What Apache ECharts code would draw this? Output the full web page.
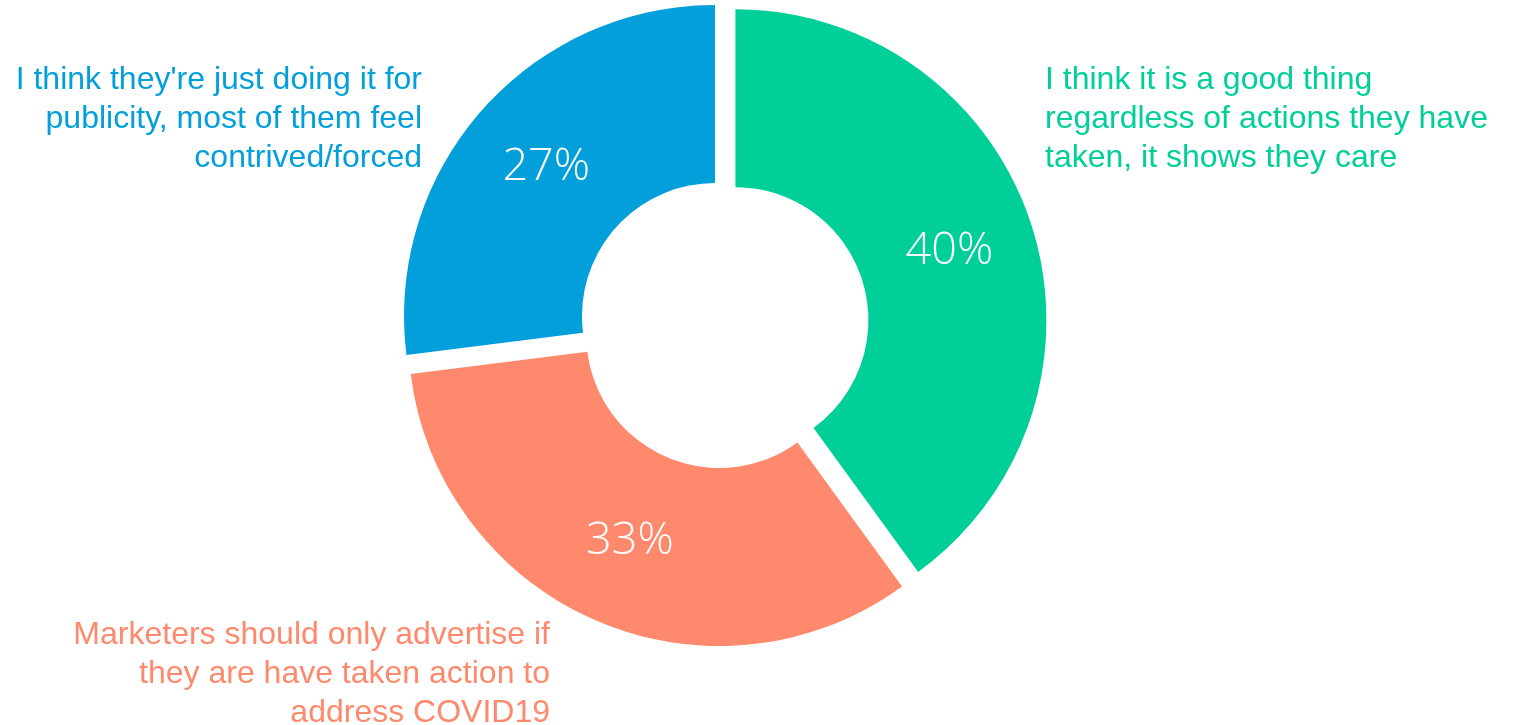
<!DOCTYPE html>
<html>
<head>
<meta charset="utf-8">
<title>Opinions on brand COVID-19 messaging</title>
<script src="https://cdn.jsdelivr.net/npm/echarts@6/dist/echarts.min.js"></script>
<style>
  html, body { margin: 0; padding: 0; background: #ffffff; }
  #chart { width: 1513px; height: 725px; }
</style>
</head>
<body>
<div id="chart"></div>
<script>
// Survey answers, clockwise from 12 o'clock
const categories = [
  'I think it is a good thing\nregardless of actions they have\ntaken, it shows they care',
  'Marketers should only advertise if\nthey are have taken action to\naddress COVID19',
  "I think they're just doing it for\npublicity, most of them feel\ncontrived/forced"
];
const shares = [40, 33, 27];
const colors = ['#00CF9A', '#FF896C', '#039FDB'];

// Where each answer text block sits (anchor point + alignment)
const labelAnchors = [
  { x: 1045, y: 119, align: 'left' },
  { x: 550,  y: 674, align: 'right' },
  { x: 422,  y: 119, align: 'right' }
];

const CENTER = [724, 324];
const RADIUS = [133, 311];

const ringData = categories.map((name, i) => ({
  name: name,
  value: shares[i],
  selected: true,
  itemStyle: { color: colors[i] }
}));

const textData = categories.map((name, i) => ({
  name: name,
  value: shares[i],
  itemStyle: { color: 'rgba(0,0,0,0)' },
  label: { color: colors[i] }
}));

const chart = echarts.init(document.getElementById('chart'), null, { renderer: 'canvas' });

chart.setOption({
  animation: false,
  backgroundColor: '#ffffff',
  series: [
    {
      // donut ring with percentage inside each slice
      type: 'pie',
      center: CENTER,
      radius: RADIUS,
      startAngle: 90,
      clockwise: true,
      selectedMode: 'multiple',
      selectedOffset: 12,
      silent: true,
      data: ringData,
      label: {
        show: true,
        position: 'inside',
        formatter: p => p.value + '%',
        color: '#ffffff',
        fontFamily: 'Open Sans',
        fontWeight: 300,
        fontSize: 45,
        padding: [10, 0, 0, 0]
      },
      labelLine: { show: false },
      emphasis: { disabled: true },
      select: { itemStyle: { borderWidth: 0 } }
    },
    {
      // invisible copy that carries the answer texts
      type: 'pie',
      center: CENTER,
      radius: RADIUS,
      startAngle: 90,
      clockwise: true,
      silent: true,
      z: 3,
      data: textData,
      label: {
        show: true,
        position: 'outside',
        formatter: p => p.name,
        fontFamily: 'Liberation Sans, Arial, sans-serif',
        fontSize: 32,
        lineHeight: 39,
        overflow: 'none',
        width: 600
      },
      labelLine: { show: false },
      labelLayout: params => {
        const a = labelAnchors[params.dataIndex];
        return { x: a.x, y: a.y, align: a.align, verticalAlign: 'middle' };
      },
      emphasis: { disabled: true }
    }
  ]
});
</script>
</body>
</html>
